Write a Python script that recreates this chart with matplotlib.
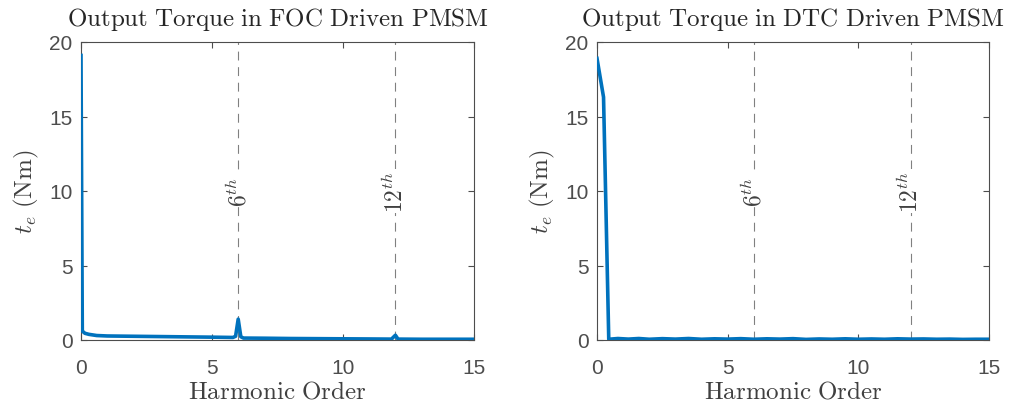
import numpy as np
import matplotlib
matplotlib.use('Agg')
import matplotlib.pyplot as plt

plt.rcParams['mathtext.fontset'] = 'cm'
plt.rcParams['font.family'] = ['Liberation Sans', 'DejaVu Sans']

# torque spectrum (harmonic order vs amplitude), FOC drive
foc_order = [0, 0.05, 0.15, 0.3, 0.6, 1.0, 2.0, 3.0, 4.0, 5.0, 5.8, 5.9, 6.0, 6.1, 6.2,
             7.0, 8.0, 9.0, 10.0, 11.0, 11.85, 12.0, 12.1, 13.0, 14.0, 15.0]
foc_te = [19.1, 0.6, 0.45, 0.38, 0.3, 0.27, 0.25, 0.23, 0.21, 0.19, 0.17, 0.25, 1.4, 0.22, 0.13,
          0.12, 0.1, 0.09, 0.08, 0.07, 0.06, 0.32, 0.06, 0.05, 0.05, 0.05]

# torque spectrum, DTC drive
dtc_order = [0, 0.25, 0.45, 0.8, 1.2, 1.6, 2.0, 2.5, 3.0, 3.5, 4.0, 4.5, 5.0, 5.5, 6.0,
             6.5, 7.0, 7.5, 8.0, 8.5, 9.0, 9.5, 10.0, 10.5, 11.0, 11.5, 12.0, 12.5,
             13.0, 13.5, 14.0, 14.5, 15.0]
dtc_te = [18.9, 16.3, 0.05, 0.1, 0.06, 0.1, 0.05, 0.09, 0.06, 0.1, 0.05, 0.08, 0.06, 0.09, 0.05,
          0.08, 0.06, 0.09, 0.04, 0.07, 0.05, 0.08, 0.05, 0.07, 0.05, 0.08, 0.06, 0.07,
          0.05, 0.06, 0.04, 0.05, 0.05]

harmonics = [6, 12]
harmonic_labels = [r'$6^{th}$', r'$12^{th}$']

titles = [r'$\mathrm{Output\ Torque\ in\ FOC\ Driven\ PMSM}$',
          r'$\mathrm{Output\ Torque\ in\ DTC\ Driven\ PMSM}$']

line_color = '#0072BD'
axis_color = '#4d4d4d'

fig = plt.figure(figsize=(10.16, 4.1), dpi=100)
ax1 = fig.add_axes([81/1016, 1-341/410, (474-81)/1016, (341-43)/410])
ax2 = fig.add_axes([597/1016, 1-341/410, (989-597)/1016, (341-43)/410])

for ax, x, y, title in [(ax1, foc_order, foc_te, titles[0]), (ax2, dtc_order, dtc_te, titles[1])]:
    for h, lab in zip(harmonics, harmonic_labels):
        ax.axvline(h, color='#808080', linestyle=(0, (8, 6)), linewidth=0.8, zorder=1)
        ax.text(h, 10, lab, rotation=90, ha='center', va='center', fontsize=17,
                color='#404040', zorder=2,
                bbox=dict(facecolor='white', edgecolor='none', pad=1))
    ax.plot(x, y, color=line_color, linewidth=2.6, zorder=3)
    ax.set_xlim(0, 15)
    ax.set_ylim(0, 20)
    ax.set_xticks([0, 5, 10, 15])
    ax.set_yticks([0, 5, 10, 15, 20])
    ax.tick_params(direction='in', top=True, right=True, labelsize=15,
                   colors=axis_color, length=4, width=0.8, pad=6)
    ax.tick_params(axis='x', pad=13)
    for s in ax.spines.values():
        s.set_color(axis_color)
        s.set_linewidth(0.8)
    ax.set_title(title, fontsize=18, color='#262626', pad=12)
    ax.set_xlabel(r'$\mathrm{Harmonic\ Order}$', fontsize=18, color='#404040', labelpad=1)
    ax.set_ylabel(r'$t_e\ \mathrm{(Nm)}$', fontsize=18, color='#404040', labelpad=6)

fig.savefig('out.png', dpi=100)
